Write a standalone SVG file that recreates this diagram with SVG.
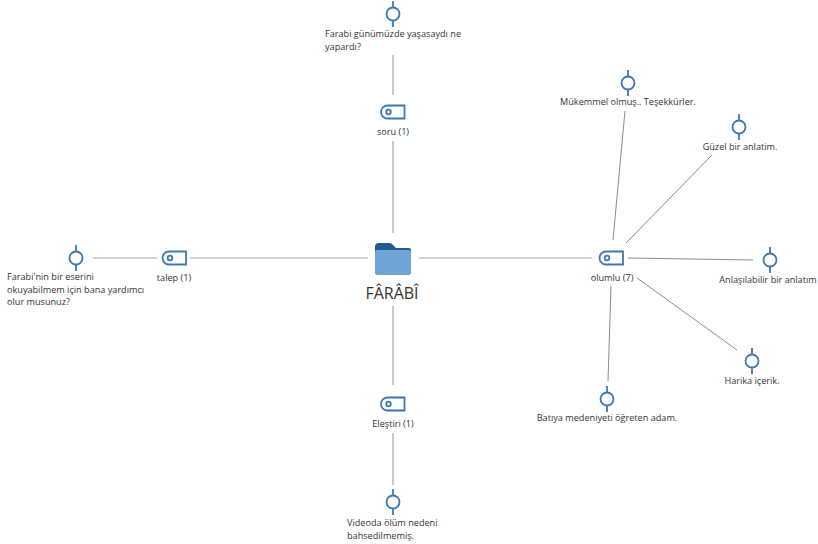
<svg xmlns="http://www.w3.org/2000/svg" width="818" height="544" viewBox="0 0 818 544">
<style>
text{font-family:"Open Sans","Noto Sans","Liberation Sans",sans-serif;font-size:9.15px;fill:#333}
.m{text-anchor:middle}
.c line{stroke:#a6a6a6;stroke-width:1.2}
.c .t{stroke:#8c8c8c;stroke-width:1}
.s{fill:#fff;stroke:#3b78b4;stroke-width:1.8}
.l{stroke:#3b78b4;stroke-width:1.8}
</style>
<defs>
<g id="tag"><path class="s" d="M-5.500 -6.500H11.500V6.500H-5.500A6.500 6.500 0 0 1 -5.500 -6.500Z"/><circle class="s" cx="-4.500" cy="0" r="2.300" stroke-width="1.400"/></g>
<g id="leaf"><line class="l" x1="0" y1="-13" x2="0" y2="13"/><circle class="s" r="6.500"/></g>
</defs>
<g id="connectors" class="c">
<line x1="393" y1="55" x2="393" y2="95"/>
<line x1="393" y1="141" x2="393" y2="233"/>
<line x1="393" y1="306" x2="393" y2="385"/>
<line x1="393" y1="433" x2="393" y2="485"/>
<line x1="93" y1="258" x2="157" y2="258"/>
<line x1="190" y1="258" x2="368" y2="258"/>
<line x1="419" y1="258" x2="592" y2="258"/>
<line class="t" x1="628" y1="258" x2="753" y2="260"/>
<line class="t" x1="625" y1="111" x2="613" y2="240"/>
<line class="t" x1="712" y1="155" x2="626" y2="243"/>
<line class="t" x1="737" y1="350" x2="637" y2="278"/>
<line class="t" x1="611" y1="286" x2="608" y2="381"/>
</g>
<g id="root">
<path fill="#1f5c8f" d="M375 247a4 4 0 0 1 4-4h10a5 5 0 0 1 4 2l3 3h13a2 2 0 0 1 2 2v3h-36Z"/>
<rect x="375" y="250" width="36" height="25" rx="2.500" fill="#6fa5d6"/>
<text class="m" x="392" y="299" style="font-size:16px">FÂRÂBÎ</text>
</g>
<g id="soru"><use href="#tag" x="393" y="112"/><text class="m" x="393" y="135">soru (1)</text></g>
<g id="talep"><use href="#tag" x="174.500" y="258"/><text class="m" x="174" y="281">talep (1)</text></g>
<g id="olumlu"><use href="#tag" x="611.500" y="258"/><text class="m" x="612" y="281">olumlu (7)</text></g>
<g id="elestiri"><use href="#tag" x="393" y="404"/><text class="m" x="393" y="427">Eleştiri (1)</text></g>
<g id="leaf-soru"><use href="#leaf" x="393" y="14"/><text x="325" y="37">Farabi günümüzde yaşasaydı ne</text><text x="325" y="50">yapardı?</text></g>
<g id="leaf-talep"><use href="#leaf" x="76" y="258"/><text x="7" y="280">Farabi'nin bir eserini</text><text x="7" y="292.500">okuyabilmem için bana yardımcı</text><text x="7" y="305">olur musunuz?</text></g>
<g id="leaf-mukemmel"><use href="#leaf" x="628" y="83"/><text class="m" x="628" y="105">Mükemmel olmuş.. Teşekkürler.</text></g>
<g id="leaf-guzel"><use href="#leaf" x="739" y="127"/><text class="m" x="740" y="150">Güzel bir anlatim.</text></g>
<g id="leaf-anlasilabilir"><use href="#leaf" x="770" y="260"/><text class="m" x="768" y="283">Anlaşılabilir bir anlatım</text></g>
<g id="leaf-harika"><use href="#leaf" x="752" y="361"/><text class="m" x="752" y="384">Harika içerik.</text></g>
<g id="leaf-batiya"><use href="#leaf" x="607" y="399"/><text class="m" x="607" y="421">Batıya medeniyeti öğreten adam.</text></g>
<g id="leaf-elestiri"><use href="#leaf" x="393" y="502"/><text x="347" y="526">Videoda ölüm nedeni</text><text x="347" y="539">bahsedilmemiş.</text></g>
</svg>
